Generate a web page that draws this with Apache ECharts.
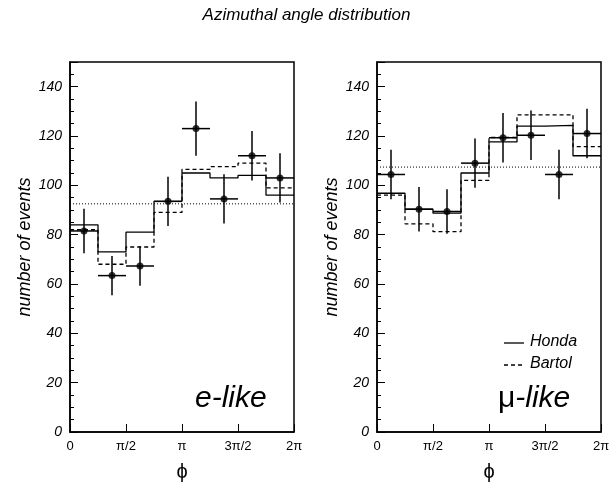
<!DOCTYPE html>
<html lang="en">
<head>
<meta charset="UTF-8">
<title>Azimuthal angle distribution</title>
<script src="https://cdn.jsdelivr.net/npm/echarts@6/dist/echarts.min.js"></script>
</head>
<body style="margin:0;background:#fff">
<div id="main" style="width:613px;height:487px;"></div>
<script>
// bins in units of pi/4 (0..8)
var binEdges = [0, 1, 2, 3, 4, 5, 6, 7, 8];
var eData = [81.5, 63.4, 67.3, 93.5, 123, 94.5, 112, 103];
var eErr = [9, 8, 8, 10, 11, 10, 10, 10];
var eHonda = [84, 73, 81, 93.5, 105, 103, 104, 96];
var eBartol = [82, 68, 75, 89, 106.5, 107.6, 109, 99];
var eFlat = 92.5;
var muData = [104.4, 90.3, 89.4, 109, 119.3, 120.3, 104.4, 121];
var muErr = [10, 9, 9, 10, 10, 10, 10, 10];
var muHonda = [96.8, 90.3, 88.7, 105, 117.6, 124, 124.3, 112];
var muBartol = [96, 84.4, 81.2, 102, 119.4, 128.6, 128.6, 115.7];
var muFlat = 107.4;
var xTickLabels = {0: '0', 2: 'π/2', 4: 'π', 6: '3π/2', 8: '2π'};

var font = 'Liberation Sans, Arial, sans-serif';
function stepPts(v) {
    var p = v.map(function (y, i) { return [binEdges[i], y]; });
    p.push([binEdges[8], v[7]]);
    return p;
}
function ptData(v, e) {
    return v.map(function (y, i) { return [binEdges[i] + 0.5, y, e[i]]; });
}
function panel(i, data, err, honda, bartol, flat) {
    return [
        { type: 'line', step: 'end', xAxisIndex: i, yAxisIndex: i, data: stepPts(honda), symbol: 'none',
          lineStyle: { color: '#000', width: 1.3 } },
        { type: 'line', step: 'end', xAxisIndex: i, yAxisIndex: i, data: stepPts(bartol), symbol: 'none',
          lineStyle: { color: '#000', width: 1.3, type: [4, 3] } },
        { type: 'line', xAxisIndex: i, yAxisIndex: i, data: [[0, flat], [8, flat]], symbol: 'none',
          lineStyle: { color: '#000', width: 1, type: [1, 2] } },
        { type: 'custom', xAxisIndex: i, yAxisIndex: i, data: ptData(data, err),
          renderItem: function (params, api) {
              var x = api.value(0), y = api.value(1), e = api.value(2);
              var l = api.coord([x - 0.5, y]), r = api.coord([x + 0.5, y]);
              var t = api.coord([x, y + e]), b = api.coord([x, y - e]);
              var st = { stroke: '#000', lineWidth: 1.5 };
              return { type: 'group', children: [
                  { type: 'line', shape: { x1: l[0], y1: l[1], x2: r[0], y2: r[1] }, style: st },
                  { type: 'line', shape: { x1: t[0], y1: t[1], x2: b[0], y2: b[1] }, style: st }
              ] };
          } },
        { type: 'scatter', xAxisIndex: i, yAxisIndex: i, data: ptData(data, err), symbolSize: 7,
          itemStyle: { color: '#000' } }
    ];
}
function xAxis(i) {
    return { type: 'value', gridIndex: i, min: 0, max: 8, interval: 2,
        name: 'ϕ', nameLocation: 'middle', nameGap: 30,
        nameTextStyle: { fontSize: 20, color: '#000', fontFamily: font },
        axisLine: { lineStyle: { color: '#000', width: 1.5 } },
        axisTick: { inside: true, length: 8, lineStyle: { color: '#000' } },
        splitLine: { show: false },
        axisLabel: { color: '#000', fontSize: 13, fontFamily: font, formatter: function (v) { return xTickLabels[v]; } } };
}
function yAxis(i) {
    return { type: 'value', gridIndex: i, min: 0, max: 150, interval: 20,
        name: 'number of events', nameLocation: 'middle', nameGap: 36,
        nameTextStyle: { fontSize: 18, fontStyle: 'italic', color: '#000', fontFamily: font },
        axisLine: { lineStyle: { color: '#000', width: 1.5 } },
        axisTick: { inside: true, length: 8, lineStyle: { color: '#000' } },
        minorTick: { show: true, splitNumber: 4, length: 4, lineStyle: { color: '#000' } },
        splitLine: { show: false },
        axisLabel: { color: '#000', fontSize: 14, fontStyle: 'italic', fontFamily: font,
            formatter: function (v) { return v <= 140 ? v : ''; } } };
}
var chart = echarts.init(document.getElementById('main'));
chart.setOption({
    animation: false,
    title: { text: 'Azimuthal angle distribution', left: 'center', top: 2,
        textStyle: { fontSize: 17, fontWeight: 'normal', fontStyle: 'italic', color: '#000', fontFamily: font } },
    grid: [
        { left: 70, top: 62, width: 224, height: 373, show: true, borderColor: '#000', borderWidth: 1.5 },
        { left: 377, top: 62, width: 224, height: 373, show: true, borderColor: '#000', borderWidth: 1.5 }
    ],
    xAxis: [xAxis(0), xAxis(1)],
    yAxis: [yAxis(0), yAxis(1)],
    series: panel(0, eData, eErr, eHonda, eBartol, eFlat).concat(panel(1, muData, muErr, muHonda, muBartol, muFlat)),
    graphic: [
        { type: 'text', left: 195, top: 384, style: { text: 'e-like', fontSize: 30, fontStyle: 'italic', fill: '#000', fontFamily: font } },
        { type: 'text', left: 498, top: 384, style: { rich: { a: { fontSize: 30, fontFamily: font }, b: { fontSize: 30, fontStyle: 'italic', fontFamily: font } }, text: '{a|μ}{b|-like}', fill: '#000' } },
        { type: 'line', shape: { x1: 504, y1: 343, x2: 524, y2: 343 }, style: { stroke: '#000', lineWidth: 1.3 } },
        { type: 'line', shape: { x1: 504, y1: 365, x2: 524, y2: 365 }, style: { stroke: '#000', lineWidth: 1.3, lineDash: [4, 3] } },
        { type: 'text', left: 530, top: 334, style: { text: 'Honda', fontSize: 16, fontStyle: 'italic', fill: '#000', fontFamily: font } },
        { type: 'text', left: 530, top: 356, style: { text: 'Bartol', fontSize: 16, fontStyle: 'italic', fill: '#000', fontFamily: font } }
    ]
});
</script>
</body>
</html>
